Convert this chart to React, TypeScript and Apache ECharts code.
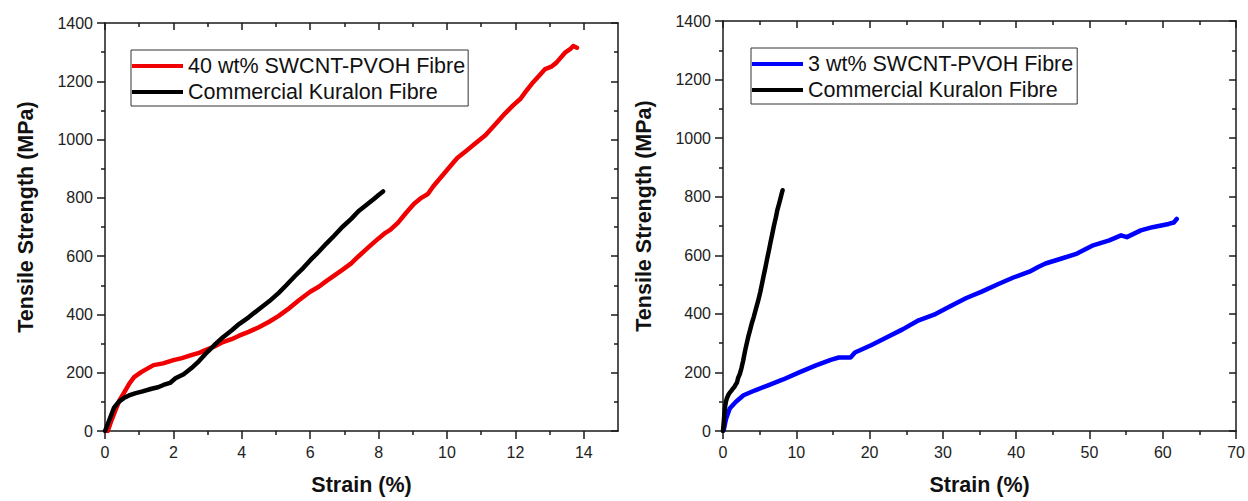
import React, { useEffect, useRef } from 'react';
import * as echarts from 'echarts';

// ---------- data ----------
const redStrain = [0.08, 0.2, 0.3, 0.43, 0.55, 0.72, 0.85, 1.07, 1.25, 1.42, 1.7, 2.0, 2.25, 2.52, 2.75, 2.99, 3.2, 3.45, 3.7, 3.92, 4.2, 4.5, 4.8, 5.08, 5.35, 5.66, 6.0, 6.25, 6.48, 6.7, 6.94, 7.2, 7.4, 7.7, 7.99, 8.2, 8.34, 8.57, 8.8, 9.03, 9.25, 9.44, 9.6, 9.73, 10.02, 10.3, 10.55, 10.78, 11.13, 11.48, 11.7, 11.94, 12.15, 12.29, 12.52, 12.7, 12.87, 13.05, 13.2, 13.45, 13.6, 13.69, 13.8];
const redStress = [0, 40, 70, 107, 130, 164, 185, 203, 215, 226, 232, 243, 250, 260, 268, 280, 290, 305, 315, 327, 340, 356, 375, 395, 418, 448, 478, 495, 515, 533, 553, 575, 598, 630, 660, 680, 690, 715, 748, 779, 800, 813, 840, 858, 898, 937, 960, 982, 1016, 1061, 1090, 1118, 1140, 1163, 1197, 1220, 1242, 1250, 1264, 1298, 1310, 1321, 1315];

const kuralonStrain = [0, 0.1, 0.26, 0.4, 0.55, 0.7, 0.9, 1.1, 1.36, 1.55, 1.71, 1.9, 2.06, 2.3, 2.52, 2.75, 2.99, 3.2, 3.45, 3.7, 3.92, 4.2, 4.5, 4.8, 5.08, 5.3, 5.55, 5.8, 6.01, 6.25, 6.48, 6.7, 6.94, 7.2, 7.41, 7.65, 7.87, 8.0, 8.13];
const kuralonStress = [0, 30, 79, 100, 113, 122, 130, 136, 145, 150, 158, 165, 181, 195, 215, 240, 271, 295, 322, 345, 367, 390, 418, 445, 474, 500, 531, 560, 587, 615, 644, 670, 700, 728, 754, 776, 797, 810, 822];

const blueStrain = [0.1, 0.4, 0.92, 1.73, 2.8, 4.4, 6.07, 8.2, 10.4, 12.6, 14.7, 15.8, 17.4, 18.0, 20.2, 22.3, 24.5, 26.7, 28.8, 31.0, 33.2, 35.3, 37.5, 39.7, 41.8, 43.0, 44.0, 46.2, 48.3, 50.5, 52.7, 54.3, 55.1, 57.0, 58.6, 60.8, 61.5, 61.9];
const blueStress = [3, 40, 77, 99, 122, 139, 155, 176, 200, 223, 243, 251, 251, 268, 293, 319, 347, 378, 397, 426, 454, 476, 501, 525, 544, 560, 572, 589, 606, 634, 651, 668, 662, 685, 696, 707, 712, 724];

const leftXMajor = [0, 2, 4, 6, 8, 10, 12, 14];
const leftXMinor = [1, 3, 5, 7, 9, 11, 13];
const rightXMajor = [0, 10, 20, 30, 40, 50, 60, 70];
const rightXMinor = [5, 15, 25, 35, 45, 55, 65];
const yMajor = [0, 200, 400, 600, 800, 1000, 1200, 1400];
const yMinor = [100, 300, 500, 700, 900, 1100, 1300];

const nameRed = '40 wt% SWCNT-PVOH Fibre';
const nameBlue = '3 wt% SWCNT-PVOH Fibre';
const nameBlack = 'Commercial Kuralon Fibre';

const zip = (a: number[], b: number[]) => a.map((v, i) => [v, b[i]]);

const FONT = '"Liberation Sans", Arial, Helvetica, sans-serif';
const AX = '#1a1a1a';

function makeAxes(dim: 'x' | 'y', gridIndex: number, min: number, max: number,
  majors: number[], minors: number[], name: string, nameGap: number, namePad: number[]) {
  const common = { type: 'value', gridIndex, min, max, splitLine: { show: false }, scale: false };
  const posA = dim === 'x' ? 'bottom' : 'left';
  const posB = dim === 'x' ? 'top' : 'right';
  const line = { color: AX, width: 1.5 };
  return [
    {
      ...common, position: posA, name, nameLocation: 'middle', nameGap,
      nameTextStyle: { fontFamily: FONT, fontWeight: 'bold', fontSize: 21.5, color: '#111', padding: namePad },
      axisLine: { show: true, onZero: false, lineStyle: line },
      axisTick: { show: true, inside: false, length: 8, customValues: majors, lineStyle: line },
      axisLabel: {
        show: true, customValues: majors, margin: dim === 'x' ? 13 : 12,
        fontFamily: FONT, fontSize: 16, color: '#222',
        formatter: (v: number) => String(v),
      },
    },
    {
      ...common, position: posA,
      axisLine: { show: false, onZero: false },
      axisTick: { show: true, inside: false, length: 4, customValues: minors, lineStyle: line },
      axisLabel: { show: false },
    },
    {
      ...common, position: posB,
      axisLine: { show: true, onZero: false, lineStyle: line },
      axisTick: { show: true, inside: true, length: 7, customValues: majors, lineStyle: line },
      axisLabel: { show: false },
    },
    {
      ...common, position: posB,
      axisLine: { show: false, onZero: false },
      axisTick: { show: true, inside: true, length: 4, customValues: minors, lineStyle: line },
      axisLabel: { show: false },
    },
  ];
}

const legendBase = {
  orient: 'vertical',
  icon: 'rect',
  itemWidth: 51,
  itemHeight: 4,
  itemGap: 2,
  selectedMode: false,
  borderColor: '#333',
  borderWidth: 1,
  borderRadius: 0,
  backgroundColor: '#fff',
  textStyle: { fontFamily: FONT, fontSize: 21.5, color: '#111', lineHeight: 24 },
};

const lineSeries = (name: string, data: number[][], color: string, xi: number, yi: number) => ({
  type: 'line', name, data, xAxisIndex: xi, yAxisIndex: yi,
  showSymbol: false, symbol: 'none', smooth: false,
  lineStyle: { color, width: 4.5, join: 'round', cap: 'round' },
  itemStyle: { color },
  z: 3,
});

const option = {
  animation: false,
  backgroundColor: '#ffffff',
  grid: [
    { left: 105, top: 23, width: 513, height: 413 },
    { left: 723, top: 21, width: 515, height: 415 },
  ],
  xAxis: [
    ...makeAxes('x', 0, 0, 15, leftXMajor, leftXMinor, 'Strain (%)', 43, [0, 0, 0, 0]),
    ...makeAxes('x', 1, 0, 70, rightXMajor, rightXMinor, 'Strain (%)', 43, [0, 0, 0, 0]),
  ],
  yAxis: [
    ...makeAxes('y', 0, 0, 1400, yMajor, yMinor, 'Tensile Strength (MPa)', 68, [0, 0, 0, 20]),
    ...makeAxes('y', 1, 0, 1400, yMajor, yMinor, 'Tensile Strength (MPa)', 68, [0, 0, 0, 20]),
  ],
  legend: [
    { ...legendBase, left: 131, top: 50, padding: [4, 3, 2, 1], data: [nameRed, nameBlack] },
    { ...legendBase, left: 751, top: 48, padding: [4, 4, 2, 1], data: [nameBlue, nameBlack] },
  ],
  series: [
    lineSeries(nameRed, zip(redStrain, redStress), '#f00000', 0, 0),
    lineSeries(nameBlack, zip(kuralonStrain, kuralonStress), '#000000', 0, 0),
    lineSeries(nameBlue, zip(blueStrain, blueStress), '#0000ff', 4, 4),
    lineSeries(nameBlack, zip(kuralonStrain, kuralonStress), '#000000', 4, 4),
  ],
};

export default function App() {
  const ref = useRef<HTMLDivElement>(null);
  useEffect(() => {
    const chart = echarts.init(ref.current!, null, { renderer: 'svg' });
    chart.setOption(option as any);
    return () => chart.dispose();
  }, []);
  return (
    <div
      ref={ref}
      style={{ position: 'absolute', left: 0, top: 0, width: 1248, height: 501, background: '#fff' }}
    />
  );
}
